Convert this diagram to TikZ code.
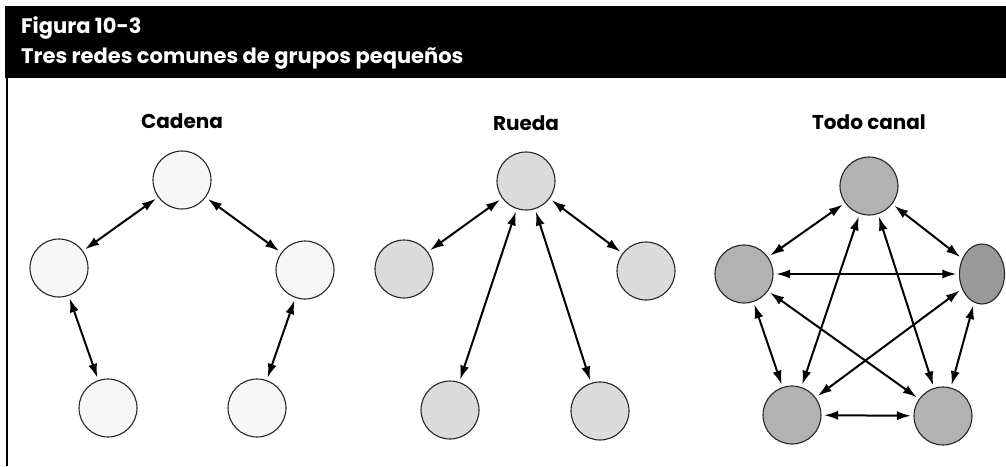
\documentclass[tikz,border=0pt]{standalone}
\usepackage{fontspec}
\setmainfont{Poppins}
\usepackage{tikz}
\usetikzlibrary{positioning,arrows.meta,shapes.geometric}

\begin{document}
\begin{tikzpicture}[x=1pt, y=-1pt,
    node distance=18pt,
    persona/.style={circle, draw=black!85, line width=1.1pt, minimum size=58pt, inner sep=0pt},
    cadena/.style={persona, fill=black!3},
    rueda/.style={persona, fill=black!14},
    todo/.style={persona, fill=black!30},
    titulo/.style={font=\bfseries\fontsize{20}{22}\selectfont},
    cabecera/.style={text=white, align=left, inner sep=0pt, font=\bfseries\fontsize{21}{30}\selectfont},
    flecha/.style={{Latex[length=14pt,width=9pt]}-{Latex[length=14pt,width=9pt]},
                   line width=2pt, shorten <=2.5pt, shorten >=2.5pt}
]
    \useasboundingbox (0,0) rectangle (1006,466);
    \fill[black] (5,6) rectangle (1006,78);
    \draw[line width=2pt] (7,78) -- (7,466);
    \node[cabecera, anchor=north west] (cab) at (21,16) {Figura 10-3\\Tres redes comunes de grupos pequeños};

    \node[cadena] (c1) at (182,180) {};
    \node[cadena] (c2) at (59,268) {};
    \node[cadena] (c3) at (305,270) {};
    \node[cadena] (c4) at (108,408) {};
    \node[cadena] (c5) at (257,408) {};
    \node[titulo, above=of c1] (tc) {Cadena};

    \node[rueda] (r1) at (526,181) {};
    \node[rueda] (r2) at (404,269) {};
    \node[rueda] (r3) at (646,271) {};
    \node[rueda] (r4) at (450,410) {};
    \node[rueda] (r5) at (600,411) {};
    \node[titulo, above=17pt of r1] (tr) {Rueda};

    \node[todo] (t1) at (869,186) {};
    \node[todo] (t2) at (744,274) {};
    \node[todo, ellipse, fill=black!40, minimum width=45pt, minimum height=60pt] (t3) at (982,274) {};
    \node[todo] (t4) at (792,415) {};
    \node[todo] (t5) at (943,416) {};
    \node[titulo, above=23pt of t1] (tt) {Todo canal};

    \draw[flecha] (c1) -- (c2);
    \draw[flecha] (c1) -- (c3);
    \draw[flecha] (c2) -- (c4);
    \draw[flecha] (c3) -- (c5);

    \draw[flecha] (r1) -- (r2);
    \draw[flecha] (r1) -- (r3);
    \draw[flecha] (r1) -- (r4);
    \draw[flecha] (r1) -- (r5);

    \draw[flecha] (t1) -- (t2);
    \draw[flecha] (t1) -- (t3);
    \draw[flecha] (t1) -- (t4);
    \draw[flecha] (t1) -- (t5);
    \draw[flecha] (t2) -- (t3);
    \draw[flecha] (t2) -- (t4);
    \draw[flecha] (t2) -- (t5);
    \draw[flecha] (t3) -- (t4);
    \draw[flecha] (t3) -- (t5);
    \draw[flecha] (t4) -- (t5);
\end{tikzpicture}
\end{document}
